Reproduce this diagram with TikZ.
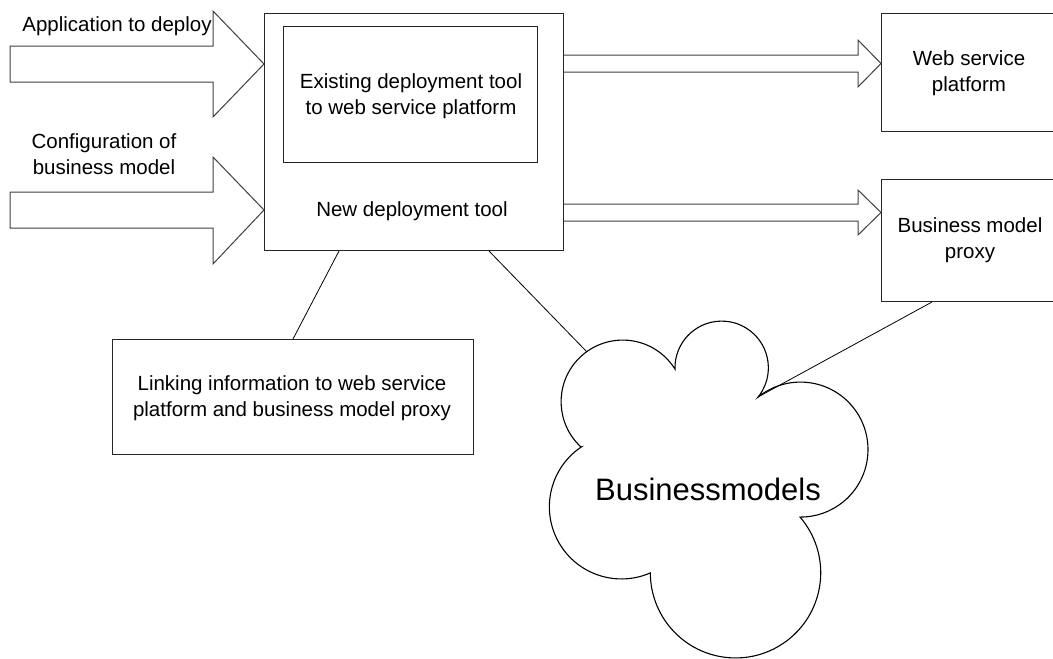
\documentclass[tikz,border=0pt]{standalone}
\usepackage{fontspec}
\setmainfont{Liberation Sans}
\usetikzlibrary{calc}
\begin{document}
\begin{tikzpicture}[x=1pt,y=-1pt,
  box/.style={draw=black!85, line width=1pt, fill=white, inner sep=0pt, anchor=north west},
  lbl/.style={font=\fontsize{20.5}{26}\selectfont, align=center, inner sep=0pt},
  biglbl/.style={font=\fontsize{31}{37}\selectfont, inner sep=0pt},
  link/.style={draw=black, line width=0.8pt},
  blockarrow/.style={draw=black!75, line width=1pt, fill=white, line join=miter}]
\useasboundingbox (0,0) rectangle (1053,659);

% boxes
\node[box, minimum width=299pt, minimum height=237pt] (newtool) at (264,13) {};
\node[box, minimum width=254pt, minimum height=136pt] (existing) at (283,26) {};
\node[box, minimum width=190pt, minimum height=118pt] (websp) at (881,13) {};
\node[box, minimum width=190pt, minimum height=122pt] (proxy) at (881,179) {};
\node[box, minimum width=361pt, minimum height=115pt] (linking) at (112,339) {};

% box texts
\node[lbl] (existinglbl) at (411,96) {Existing deployment tool\\to web service platform};
\node[lbl, anchor=base] (newtoollbl) at (412,216.5) {New deployment tool};
\node[lbl] (webspl) at (969,73.5) {Web service\\platform};
\node[lbl] (proxylbl) at (970,240.5) {Business model\\proxy};
\node[lbl] (linkinglbl) at (292,398.5) {Linking information to web service\\platform and business model proxy};

% input texts
\node[lbl, anchor=base] (applbl) at (117,31) {Application to deploy};
\node[lbl] (conflbl) at (104,154.5) {Configuration of\\business model};

% incoming block arrows
\draw[blockarrow] (10,46) -- (213,46) -- (213,11) -- (newtool.west |- 0,64)
  -- (213,117) -- (213,82) -- (10,82) -- cycle;
\draw[blockarrow] (10,192) -- (213,192) -- (213,157) -- (newtool.west |- 0,210)
  -- (213,264) -- (213,228) -- (10,228) -- cycle;

% outgoing block arrows
\draw[blockarrow] (newtool.east |- 0,55) -- (858,55) -- (858,40) -- (websp.west |- 0,63.5)
  -- (858,87) -- (858,72) -- (newtool.east |- 0,72);
\draw[blockarrow] (newtool.east |- 0,204) -- (858,204) -- (858,190) -- (proxy.west |- 0,212.5)
  -- (858,235) -- (858,221) -- (newtool.east |- 0,221);

% cloud of business models
\coordinate (n1) at (675,369);
\coordinate (n2) at (758,397);
\coordinate (n5) at (581,447);
\coordinate (cloudin) at (587,352);
\draw[draw=black, line width=1.1pt, fill=white]
  (n5) arc[start angle=227.4, end angle=31.9, radius=61.6pt]
       arc[start angle=181.6, end angle=-38.9, radius=46.7pt]
       arc[start angle=129.0, end angle=-90.4, radius=67.5pt]
       arc[start angle=40.8, end angle=-179.9, radius=85.2pt]
       arc[start angle=-66.4, end angle=-236.2, radius=72.1pt] -- cycle;
\node[biglbl, anchor=base] (cloudlbl) at (708,500.5) {Businessmodels};

% plain connectors
\draw[link] ($(newtool.south west)!0.25!(newtool.south east)$) -- (linking.north);
\draw[link] ($(newtool.south west)!0.75!(newtool.south east)$) -- (cloudin);
\draw[link] ([xshift=51pt]proxy.south west) -- (n2);
\end{tikzpicture}
\end{document}
